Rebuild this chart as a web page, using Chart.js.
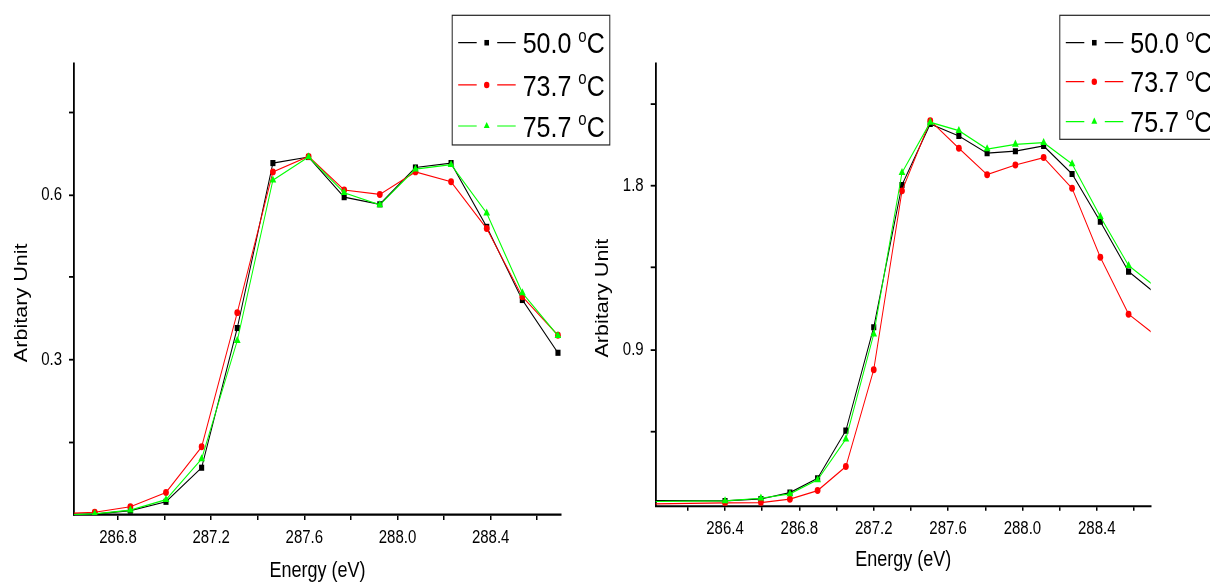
<!DOCTYPE html>
<html>
<head>
<meta charset="utf-8">
<script src="https://cdn.jsdelivr.net/npm/chart.js@4.4.1/dist/chart.umd.min.js"></script>
<style>
  html, body { margin: 0; padding: 0; background: #fff; }
  #wrap { position: relative; width: 1210px; height: 585px; overflow: hidden; }
  canvas { position: absolute; top: 0; }
</style>
</head>
<body>
<div id="wrap">
  <canvas id="leftPanel" width="615" height="585" style="left:0"></canvas>
  <canvas id="rightPanel" width="625" height="585" style="left:585px"></canvas>
</div>
<script>
// ---- series labels ----
const temperatures = ['50.0', '73.7', '75.7'];

// ---- left panel: energy (eV) and intensity ----
const leftEnergy = [286.547, 286.700, 286.853, 287.006, 287.159, 287.312, 287.465, 287.618,
                    287.771, 287.924, 288.077, 288.230, 288.383, 288.536, 288.689];
const left500 = [0.017, 0.0195, 0.026, 0.042, 0.104, 0.358, 0.658, 0.669,
                 0.596, 0.583, 0.650, 0.658, 0.542, 0.409, 0.313];
const left737 = [0.020, 0.023, 0.033, 0.059, 0.142, 0.386, 0.642, 0.670,
                 0.609, 0.601, 0.642, 0.624, 0.539, 0.415, 0.345];
const left757 = [0.018, 0.020, 0.027, 0.046, 0.120, 0.335, 0.627, 0.669,
                 0.604, 0.582, 0.647, 0.655, 0.567, 0.422, 0.344];

// ---- right panel: energy (eV) and intensity ----
const rightEnergy = [285.900, 286.400, 286.593, 286.749, 286.898, 287.050, 287.200, 287.352, 287.504,
                     287.658, 287.810, 287.962, 288.114, 288.267, 288.419, 288.571, 288.723];
const right500 = [0.071, 0.068, 0.079, 0.114, 0.193, 0.455, 1.023, 1.805, 2.141,
                  2.075, 1.980, 1.991, 2.020, 1.866, 1.604, 1.329, 1.203];
const right737 = [0.050, 0.057, 0.059, 0.078, 0.125, 0.257, 0.790, 1.773, 2.159,
                  2.007, 1.862, 1.915, 1.956, 1.787, 1.408, 1.095, 0.973];
const right757 = [0.064, 0.068, 0.083, 0.107, 0.184, 0.408, 0.985, 1.873, 2.150,
                  2.104, 2.003, 2.029, 2.038, 1.921, 1.631, 1.362, 1.240];

// ---- axis ticks (all tick marks, and the ones that carry a label) ----
const leftXTicks  = [286.8, 287.0, 287.2, 287.4, 287.6, 287.8, 288.0, 288.2, 288.4, 288.6];
const leftXLabels = [286.8, 287.2, 287.6, 288.0, 288.4];
const leftYTicks  = [0.15, 0.30, 0.45, 0.60, 0.75];
const leftYLabels = [0.3, 0.6];

const rightXTicks  = [286.2, 286.4, 286.6, 286.8, 287.0, 287.2, 287.4, 287.6, 287.8, 288.0, 288.2, 288.4, 288.6];
const rightXLabels = [286.4, 286.8, 287.2, 287.6, 288.0, 288.4];
const rightYTicks  = [0.45, 0.90, 1.35, 1.80, 2.25];
const rightYLabels = [0.9, 1.8];

// ---- styling ----
const FONT = '"Liberation Sans", Arial, Helvetica, sans-serif';
const K = 1.2;          // vertical stretch applied to the whole drawing
const H = 585;
const HC = H / K;       // layout height before the stretch
const seriesStyle = [
  { color: '#000000', pointStyle: 'rect',     radius: 3.6, order: 2 },
  { color: '#ff0000', pointStyle: 'circle',   radius: 2.9, order: 1 },
  { color: '#00ff00', pointStyle: 'triangle', radius: 3.9, order: 0 }
];

function hasLabel(list, v) {
  return list.some(l => Math.abs(l - v) < 1e-6);
}

// Stretches the drawing vertically, then adds the boxed legend and the y title.
const decorPlugin = {
  id: 'decor',
  beforeDraw(chart) {
    chart.ctx.save();
    chart.ctx.scale(1, K);
  },
  afterDraw(chart, args, opts) {
    const ctx = chart.ctx;
    const area = chart.chartArea;

    // y axis title
    ctx.save();
    ctx.fillStyle = '#000';
    ctx.font = '18px ' + FONT;
    ctx.textAlign = 'center';
    ctx.textBaseline = 'middle';
    ctx.translate(area.left - opts.yTitleGap, (area.top + area.bottom) / 2 + opts.yTitleShift);
    ctx.rotate(-Math.PI / 2);
    ctx.fillText('Arbitary Unit', 0, 0);
    ctx.restore();

    // legend
    const lg = opts.legend;
    ctx.save();
    ctx.strokeStyle = '#222';
    ctx.lineWidth = 1;
    ctx.strokeRect(lg.x + 0.5, lg.top, lg.w, lg.bottom - lg.top);
    chart.data.datasets.forEach((ds, i) => {
      const y = lg.rows[i];
      ctx.strokeStyle = ds.borderColor;
      ctx.fillStyle = ds.borderColor;
      ctx.lineWidth = 1;
      ctx.beginPath();
      ctx.moveTo(lg.x + 6.5, y); ctx.lineTo(lg.x + 25, y);
      ctx.moveTo(lg.x + 45.5, y); ctx.lineTo(lg.x + 64, y);
      ctx.stroke();
      const mx = lg.x + 35;
      if (ds.pointStyle === 'rect') {
        ctx.fillRect(mx - 2.3, y - 2.3, 4.6, 4.6);
      } else if (ds.pointStyle === 'circle') {
        ctx.beginPath(); ctx.arc(mx, y, 2.7, 0, Math.PI * 2); ctx.fill();
      } else {
        const r = 3.4;
        ctx.beginPath();
        ctx.moveTo(mx, y - r);
        ctx.lineTo(mx - r * 0.866, y + r * 0.5);
        ctx.lineTo(mx + r * 0.866, y + r * 0.5);
        ctx.closePath(); ctx.fill();
      }
      // "50.0 oC" with a raised small o
      const fs = lg.fontSize;
      const base = y + 0.716 * fs / 2;
      let tx = lg.x + 71;
      ctx.fillStyle = '#000';
      ctx.textAlign = 'left';
      ctx.textBaseline = 'alphabetic';
      ctx.font = fs + 'px ' + FONT;
      const main = ds.label + ' ';
      ctx.fillText(main, tx, base);
      tx += ctx.measureText(main).width;
      const sfs = fs * 0.6;
      ctx.font = sfs + 'px ' + FONT;
      ctx.fillText('o', tx, base - 0.716 * fs + 0.53 * sfs);
      tx += ctx.measureText('o').width;
      ctx.font = fs + 'px ' + FONT;
      ctx.fillText('C', tx, base);
    });
    ctx.restore();

    ctx.restore();
  }
};

function makePanel(canvasId, spec) {
  const canvas = document.getElementById(canvasId);
  const W = canvas.width;
  const datasets = spec.series.map((vals, i) => ({
    label: temperatures[i],
    data: spec.energy.map((e, j) => ({ x: e, y: vals[j] })),
    borderColor: seriesStyle[i].color,
    backgroundColor: seriesStyle[i].color,
    borderWidth: 1,
    pointStyle: seriesStyle[i].pointStyle,
    pointRadius: seriesStyle[i].radius,
    pointBorderWidth: 0,
    pointBackgroundColor: seriesStyle[i].color,
    tension: 0,
    order: seriesStyle[i].order
  }));

  const axisCommon = {
    type: 'linear',
    border: { display: true, color: '#000', width: 1.8 },
    ticks: { color: '#000', font: { family: FONT, size: 15 }, autoSkip: false, maxRotation: 0 }
  };

  return new Chart(canvas, {
    type: 'line',
    data: { datasets },
    plugins: [decorPlugin],
    options: {
      responsive: false,
      animation: false,
      devicePixelRatio: 1,
      layout: {
        padding: { left: 0, top: spec.area.top / K, right: W - spec.area.right, bottom: H - HC }
      },
      plugins: {
        legend: { display: false },
        tooltip: { enabled: false },
        decor: spec.decor
      },
      scales: {
        x: {
          ...axisCommon,
          min: spec.xMin, max: spec.xMax,
          afterBuildTicks: s => { s.ticks = spec.xTicks.map(v => ({ value: v })); },
          afterFit: s => { s.height = HC - spec.area.bottom / K; },
          ticks: {
            ...axisCommon.ticks, padding: 6,
            callback: v => hasLabel(spec.xLabels, v) ? Number(v).toFixed(1) : ''
          },
          grid: { display: true, drawOnChartArea: false, drawTicks: true, tickLength: 5 / K,
                  color: '#000', tickColor: '#000', lineWidth: 1.5, tickWidth: 1.5 },
          title: { display: true, text: 'Energy (eV)', color: '#000',
                   font: { family: FONT, size: 18 },
                   padding: { top: 0, bottom: spec.xTitlePad } }
        },
        y: {
          ...axisCommon,
          min: spec.yMin, max: spec.yMax,
          afterBuildTicks: s => { s.ticks = spec.yTicks.map(v => ({ value: v })); },
          afterFit: s => { s.width = spec.area.left; },
          ticks: {
            ...axisCommon.ticks, padding: 7,
            callback: v => hasLabel(spec.yLabels, v) ? Number(v).toFixed(1) : ''
          },
          grid: { display: true, drawOnChartArea: false, drawTicks: true, tickLength: 5,
                  color: '#000', tickColor: '#000', lineWidth: 1.5, tickWidth: 1.5 },
          title: { display: false }
        }
      }
    }
  });
}

makePanel('leftPanel', {
  energy: leftEnergy,
  series: [left500, left737, left757],
  xMin: 286.611, xMax: 288.702, yMin: 0.018, yMax: 0.840,
  xTicks: leftXTicks, xLabels: leftXLabels, yTicks: leftYTicks, yLabels: leftYLabels,
  area: { left: 74, right: 561, top: 63, bottom: 515 },
  xTitlePad: 0.8,
  decor: {
    yTitleGap: 52, yTitleShift: 11.5,
    legend: { x: 451.7, w: 157.6, top: 12.75, bottom: 120.8, rows: [35.6, 70.8, 105.0], fontSize: 25 }
  }
});

makePanel('rightPanel', {
  energy: rightEnergy,
  series: [right500, right737, right757],
  xMin: 286.027, xMax: 288.690, yMin: 0.042, yMax: 2.476,
  xTicks: rightXTicks, xLabels: rightXLabels, yTicks: rightYTicks, yLabels: rightYLabels,
  area: { left: 70.7, right: 565.7, top: 63, bottom: 505.7 },
  xTitlePad: 10,
  decor: {
    yTitleGap: 53, yTitleShift: 11.5,
    legend: { x: 474.3, w: 170, top: 12.75, bottom: 116.1, rows: [35.6, 68.1, 101.4], fontSize: 25 }
  }
});
</script>
</body>
</html>
